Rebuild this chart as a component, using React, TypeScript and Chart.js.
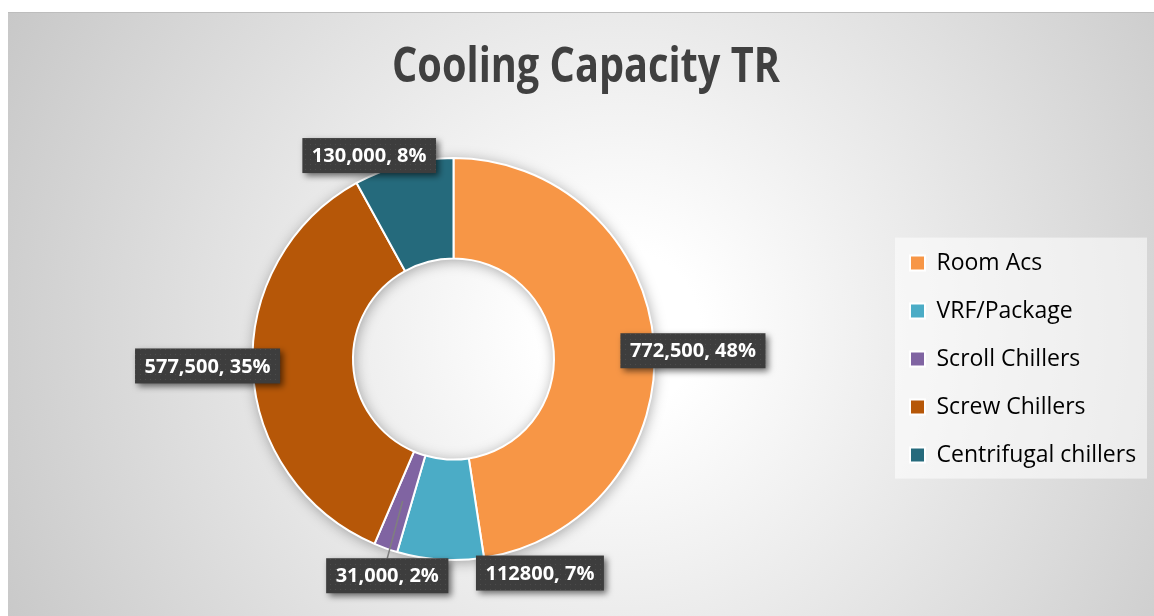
import React, { useEffect, useRef } from "react";
import { Chart, registerables } from "chart.js";

Chart.register(...registerables);

// ---------------- data ----------------
const chartTitle = "Cooling Capacity TR";
const categories = ["Room Acs", "VRF/Package", "Scroll Chillers", "Screw Chillers", "Centrifugal chillers"];
const capacityTR = [772500, 112800, 31000, 577500, 130000];
const valueTexts = ["772,500", "112800", "31,000", "577,500", "130,000"];
const percentTexts = ["48%", "7%", "2%", "35%", "8%"];
const sliceColors = ["#F79646", "#4BACC6", "#8064A2", "#B65708", "#256A7C"];

// ---------------- layout ----------------
const FRAME_W = 1146;
const FRAME_H = 604;
const LEGEND_FONT = 23;
const LEGEND_BOX = 15;
const LEGEND_PAD = 25;
const LEGEND_LEFT = 878;
const LEGEND_FIT_CORRECTION = 9;
// label placement (polar, clockwise from 12 o'clock, relative to outer radius)
const labelAngleDeg = [88, 158, 197, 268.4, 337.5];
const labelRadiusFactor = [1.192, 1.148, 1.127, 1.224, 1.096];
const labelHasLeader = [false, false, true, false, false];

function makeDotPattern(ctx: CanvasRenderingContext2D) {
  const c = document.createElement("canvas");
  c.width = 5;
  c.height = 5;
  const g = c.getContext("2d")!;
  g.fillStyle = "#3d3d3d";
  g.fillRect(0, 0, 5, 5);
  g.fillStyle = "#4c4c4c";
  g.fillRect(2, 2, 1, 1);
  return ctx.createPattern(c, "repeat");
}

const legendPanelPlugin = {
  id: "legendPanel",
  beforeDraw(chart: any) {
    const lg = chart.legend;
    const hb = lg && lg.legendHitBoxes;
    if (!hb || !hb.length) return;
    const ctx = chart.ctx as CanvasRenderingContext2D;
    const top = hb[0].top - 14;
    const last = hb[hb.length - 1];
    const bottom = last.top + last.height + 12;
    const left = hb[0].left - 15;
    const right = chart.width - 7;
    ctx.save();
    ctx.fillStyle = "rgba(255,255,255,0.55)";
    ctx.fillRect(left, top, right - left, bottom - top);
    ctx.restore();
  },
};

const ringShadowPlugin = {
  id: "ringShadow",
  beforeDatasetsDraw(chart: any) {
    const meta = chart.getDatasetMeta(0);
    const arc = meta.data[0] as any;
    if (!arc) return;
    const { x, y, outerRadius, innerRadius } = arc;
    const ctx = chart.ctx as CanvasRenderingContext2D;
    ctx.save();
    ctx.shadowColor = "rgba(0,0,0,0.35)";
    ctx.shadowBlur = 14;
    ctx.shadowOffsetX = 1;
    ctx.shadowOffsetY = 2;
    ctx.fillStyle = "#999999";
    ctx.beginPath();
    ctx.arc(x, y, outerRadius, 0, Math.PI * 2);
    ctx.moveTo(x + innerRadius, y);
    ctx.arc(x, y, innerRadius, 0, Math.PI * 2, true);
    ctx.closePath();
    ctx.fill();
    ctx.restore();
  },
};

const sliceLabelPlugin = {
  id: "sliceLabels",
  afterDatasetsDraw(chart: any) {
    const ctx = chart.ctx as CanvasRenderingContext2D;
    const meta = chart.getDatasetMeta(0);
    const pattern = makeDotPattern(ctx);
    ctx.save();
    ctx.font = 'bold 20px "Open Sans", sans-serif';
    meta.data.forEach((el: any, i: number) => {
      const { x, y, outerRadius, innerRadius, startAngle, endAngle } = el;
      const a = (labelAngleDeg[i] * Math.PI) / 180;
      const r = outerRadius * labelRadiusFactor[i];
      const cx = x + Math.sin(a) * r;
      const cy = y - Math.cos(a) * r;
      const text = `${valueTexts[i]}, ${percentTexts[i]}`;
      const tw = ctx.measureText(text).width;
      const bw = tw + 19;
      const bh = 35;
      if (labelHasLeader[i]) {
        const mid = (startAngle + endAngle) / 2;
        const mr = (outerRadius + innerRadius) / 2;
        ctx.strokeStyle = "#7f7f7f";
        ctx.lineWidth = 1.5;
        ctx.beginPath();
        ctx.moveTo(x + Math.cos(mid) * mr, y + Math.sin(mid) * mr);
        ctx.lineTo(cx, cy - bh / 2);
        ctx.stroke();
      }
      ctx.save();
      ctx.shadowColor = "rgba(0,0,0,0.55)";
      ctx.shadowBlur = 6;
      ctx.shadowOffsetX = 3;
      ctx.shadowOffsetY = 3;
      ctx.fillStyle = (pattern as any) || "#404040";
      ctx.fillRect(cx - bw / 2, cy - bh / 2, bw, bh);
      ctx.restore();
      ctx.fillStyle = "#ffffff";
      ctx.textAlign = "center";
      ctx.textBaseline = "middle";
      ctx.fillText(text, cx, cy + 1);
    });
    ctx.restore();
  },
};

const frameTitlePlugin = {
  id: "frameTitle",
  afterDraw(chart: any) {
    const ctx = chart.ctx as CanvasRenderingContext2D;
    ctx.save();
    ctx.font = 'bold 48px "Liberation Sans Narrow", "Open Sans", sans-serif';
    ctx.fillStyle = "#404040";
    ctx.textAlign = "center";
    ctx.textBaseline = "alphabetic";
    const w = ctx.measureText(chartTitle).width;
    const sx = Math.min(1, 388 / w);
    ctx.translate(chart.width / 2 + 5, 70);
    ctx.scale(sx, 1);
    ctx.fillText(chartTitle, 0, 0);
    ctx.restore();
  },
};

export default function App() {
  const canvasRef = useRef<HTMLCanvasElement | null>(null);

  useEffect(() => {
    const canvas = canvasRef.current;
    if (!canvas) return;
    const mctx = document.createElement("canvas").getContext("2d")!;
    mctx.font = `${LEGEND_FONT}px "Open Sans", sans-serif`;
    const maxTextW = Math.max(...categories.map((c) => mctx.measureText(c).width));
    const legendW = LEGEND_PAD + LEGEND_BOX + LEGEND_FONT / 2 + maxTextW;
    const padRight = FRAME_W - LEGEND_LEFT - legendW - LEGEND_FIT_CORRECTION;

    const chart = new Chart(canvas, {
      type: "doughnut",
      data: {
        labels: categories,
        datasets: [
          {
            data: capacityTR,
            backgroundColor: sliceColors,
            borderColor: "#ffffff",
            borderWidth: 2,
          },
        ],
      },
      options: {
        responsive: false,
        animation: false,
        cutout: "50%",
        radius: 201,
        layout: { padding: { left: 14, right: padRight, top: 145.6, bottom: 55.4 } },
        plugins: {
          title: { display: false },
          tooltip: { enabled: false },
          legend: {
            position: "right",
            fullSize: false,
            labels: {
              font: { family: '"Open Sans", sans-serif', size: LEGEND_FONT },
              color: "#000000",
              boxWidth: LEGEND_BOX,
              boxHeight: LEGEND_BOX,
              padding: LEGEND_PAD,
            },
          },
        },
      } as any,
      plugins: [legendPanelPlugin, ringShadowPlugin, sliceLabelPlugin, frameTitlePlugin],
    });
    return () => chart.destroy();
  }, []);

  return (
    <div style={{ position: "fixed", left: 0, top: 0, width: 1154, height: 616, background: "#ffffff", overflow: "hidden" }}>
      <div
        style={{
          position: "absolute",
          left: 8,
          top: 12,
          width: FRAME_W,
          height: FRAME_H,
          background: "radial-gradient(circle at 612px 318px, #ffffff 0px, #ffffff 80px, #c5c5c5 720px)",
          boxShadow: "inset 0 1px 0 #bdbdbd",
        }}
      >
        <canvas ref={canvasRef} width={FRAME_W} height={FRAME_H} style={{ display: "block", width: FRAME_W, height: FRAME_H }} />
      </div>
    </div>
  );
}
